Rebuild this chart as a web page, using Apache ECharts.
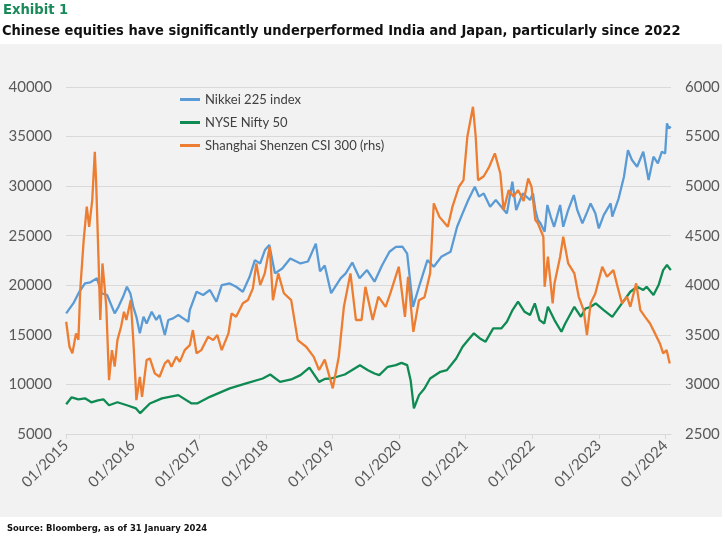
<!DOCTYPE html>
<html>
<head>
<meta charset="UTF-8">
<title>Exhibit 1</title>
<script src="https://cdn.jsdelivr.net/npm/echarts@6/dist/echarts.min.js"></script>
<style>
  html, body { margin: 0; padding: 0; background: #fff; }
  #main { width: 725px; height: 540px; }
</style>
</head>
<body>
<div id="main"></div>
<script type="text/javascript">
// tick labels on the date axis
var tickLabels = ['01/2015', '01/2016', '01/2017', '01/2018', '01/2019',
                  '01/2020', '01/2021', '01/2022', '01/2023', '01/2024'];

// Nikkei 225 index (left axis)
var nikkei = [
  ['2015-01-02', 17170], ['2015-02-10', 18170], ['2015-03-15', 19350], ['2015-04-15', 20190],
  ['2015-05-15', 20300], ['2015-06-20', 20700], ['2015-07-15', 19200], ['2015-08-15', 19000],
  ['2015-09-25', 17170], ['2015-10-15', 17800], ['2015-11-10', 18840], ['2015-12-01', 19850],
  ['2015-12-20', 19180], ['2016-01-05', 17830], ['2016-01-22', 16820], ['2016-02-10', 15150],
  ['2016-03-01', 16820], ['2016-03-18', 16150], ['2016-04-15', 17330], ['2016-05-10', 16500],
  ['2016-05-28', 17000], ['2016-06-26', 14980], ['2016-07-15', 16500], ['2016-08-10', 16660],
  ['2016-09-08', 17000], ['2016-10-05', 16660], ['2016-11-02', 16320], ['2016-11-10', 17500],
  ['2016-12-17', 19350], ['2017-01-22', 19020], ['2017-02-28', 19520], ['2017-04-05', 18340],
  ['2017-05-04', 20020], ['2017-06-17', 20190], ['2017-07-22', 19850], ['2017-08-28', 19350],
  ['2017-10-04', 20860], ['2017-11-02', 22540], ['2017-12-01', 22200], ['2017-12-27', 23550],
  ['2018-01-20', 24070], ['2018-02-20', 21200], ['2018-04-01', 21700], ['2018-05-15', 22700],
  ['2018-07-10', 22200], ['2018-08-20', 22400], ['2018-10-02', 24200], ['2018-10-25', 21400],
  ['2018-11-20', 22000], ['2018-12-25', 19200], ['2019-02-15', 20700], ['2019-03-15', 21200],
  ['2019-04-20', 22300], ['2019-05-30', 20700], ['2019-07-10', 21540], ['2019-08-20', 20360],
  ['2019-09-30', 22000], ['2019-11-10', 23380], ['2019-12-15', 23880], ['2020-01-20', 23900],
  ['2020-02-15', 23200], ['2020-03-18', 17830], ['2020-04-20', 19850], ['2020-06-05', 22540],
  ['2020-07-10', 21870], ['2020-08-20', 22870], ['2020-10-10', 23380], ['2020-11-15', 25900],
  ['2020-12-15', 27250], ['2021-01-15', 28600], ['2021-02-20', 29940], ['2021-03-15', 28940],
  ['2021-04-10', 29270], ['2021-05-15', 27930], ['2021-06-15', 28600], ['2021-08-15', 27250],
  ['2021-09-14', 30450], ['2021-10-05', 27590], ['2021-11-10', 29270], ['2021-12-20', 28600],
  ['2022-01-05', 29270], ['2022-01-18', 27590], ['2022-02-01', 26580], ['2022-02-15', 26250],
  ['2022-03-10', 25400], ['2022-03-25', 28100], ['2022-04-12', 26920], ['2022-05-01', 25900],
  ['2022-06-03', 28100], ['2022-06-20', 25900], ['2022-07-17', 27590], ['2022-08-17', 29100],
  ['2022-09-05', 27590], ['2022-10-03', 26250], ['2022-10-30', 27430], ['2022-11-17', 28260],
  ['2022-12-13', 27260], ['2023-01-01', 25740], ['2023-01-28', 27080], ['2023-03-07', 28260],
  ['2023-03-16', 26920], ['2023-04-20', 28770], ['2023-05-19', 30950], ['2023-06-10', 33640],
  ['2023-07-02', 32630], ['2023-07-30', 31960], ['2023-09-02', 33470], ['2023-10-01', 30620],
  ['2023-10-28', 32970], ['2023-11-21', 32300], ['2023-12-13', 33470], ['2023-12-31', 33300],
  ['2024-01-10', 36330], ['2024-01-20', 35830], ['2024-01-31', 36000]
];

// NYSE Nifty 50 (left axis)
var nifty = [
  ['2015-01-02', 8000], ['2015-02-01', 8700], ['2015-03-10', 8500], ['2015-04-15', 8600],
  ['2015-05-20', 8200], ['2015-06-25', 8400], ['2015-07-25', 8500], ['2015-08-25', 7900],
  ['2015-10-10', 8200], ['2015-12-01', 7900], ['2016-01-20', 7580], ['2016-02-12', 7100],
  ['2016-04-05', 8080], ['2016-06-10', 8590], ['2016-09-08', 8920], ['2016-11-20', 8080],
  ['2016-12-20', 8080], ['2017-02-28', 8750], ['2017-06-17', 9600], ['2017-09-15', 10100],
  ['2017-12-15', 10600], ['2018-01-25', 11000], ['2018-03-20', 10260], ['2018-05-20', 10500],
  ['2018-07-10', 10940], ['2018-08-28', 11700], ['2018-10-20', 10260], ['2018-11-20', 10550],
  ['2018-12-25', 10600], ['2019-03-10', 11000], ['2019-04-15', 11400], ['2019-06-01', 11940],
  ['2019-07-15', 11440], ['2019-08-20', 11100], ['2019-09-15', 10940], ['2019-11-01', 11780],
  ['2019-12-15', 11950], ['2020-01-15', 12180], ['2020-02-15', 11950], ['2020-03-05', 10430],
  ['2020-03-23', 7580], ['2020-04-20', 8920], ['2020-05-20', 9590], ['2020-06-20', 10600],
  ['2020-08-15', 11270], ['2020-09-20', 11440], ['2020-11-10', 12620], ['2020-12-15', 13800],
  ['2021-01-20', 14600], ['2021-02-15', 15150], ['2021-03-20', 14640], ['2021-04-20', 14310],
  ['2021-06-01', 15650], ['2021-07-15', 15650], ['2021-08-15', 16320], ['2021-09-15', 17500],
  ['2021-10-15', 18340], ['2021-11-20', 17330], ['2021-12-20', 17000], ['2022-01-15', 18170],
  ['2022-02-10', 16490], ['2022-03-08', 16150], ['2022-03-28', 17830], ['2022-05-03', 16490],
  ['2022-06-10', 15310], ['2022-07-01', 16150], ['2022-08-20', 17830], ['2022-09-25', 16820],
  ['2022-10-20', 17660], ['2022-11-17', 17830], ['2022-12-15', 18170], ['2023-01-28', 17500],
  ['2023-03-16', 16820], ['2023-05-01', 18000], ['2023-06-23', 19350], ['2023-07-30', 19850],
  ['2023-09-02', 19520], ['2023-09-20', 19850], ['2023-10-28', 19020], ['2023-11-25', 20020],
  ['2023-12-20', 21530], ['2024-01-10', 22040], ['2024-01-31', 21530]
];

// Shanghai Shenzen CSI 300 (right axis)
var csi = [
  ['2015-01-02', 3632], ['2015-01-20', 3380], ['2015-02-05', 3313], ['2015-02-25', 3515],
  ['2015-03-10', 3450], ['2015-03-20', 3952], ['2015-04-08', 4456], ['2015-04-25', 4793],
  ['2015-05-08', 4590], ['2015-05-25', 4860], ['2015-06-08', 5347], ['2015-06-15', 5060],
  ['2015-06-28', 4288], ['2015-07-08', 3650], ['2015-07-20', 4220], ['2015-07-30', 4020],
  ['2015-08-10', 3783], ['2015-08-25', 3043], ['2015-09-10', 3346], ['2015-09-25', 3180],
  ['2015-10-10', 3447], ['2015-10-30', 3582], ['2015-11-15', 3733], ['2015-11-28', 3650],
  ['2015-12-22', 3851], ['2016-01-05', 3447], ['2016-01-15', 3111], ['2016-01-22', 2842],
  ['2016-02-10', 3077], ['2016-02-22', 2875], ['2016-03-18', 3245], ['2016-04-05', 3262],
  ['2016-05-02', 3111], ['2016-05-28', 3077], ['2016-06-26', 3212], ['2016-07-15', 3245],
  ['2016-08-01', 3178], ['2016-08-28', 3279], ['2016-09-16', 3228], ['2016-10-13', 3346],
  ['2016-11-10', 3396], ['2016-11-27', 3548], ['2016-12-17', 3313], ['2017-01-12', 3346],
  ['2017-02-18', 3481], ['2017-03-18', 3447], ['2017-04-10', 3498], ['2017-05-04', 3346],
  ['2017-06-10', 3515], ['2017-06-27', 3717], ['2017-07-22', 3683], ['2017-08-28', 3818],
  ['2017-09-25', 3851], ['2017-10-22', 3969], ['2017-11-10', 4221], ['2017-12-01', 4002],
  ['2017-12-26', 4120], ['2018-01-22', 4389], ['2018-02-09', 3850], ['2018-03-10', 4120],
  ['2018-04-10', 3920], ['2018-05-20', 3850], ['2018-06-25', 3447], ['2018-08-10', 3380],
  ['2018-09-20', 3280], ['2018-10-20', 3145], ['2018-11-20', 3250], ['2019-01-03', 2960],
  ['2019-02-05', 3280], ['2019-03-05', 3783], ['2019-04-10', 4120], ['2019-05-10', 3650],
  ['2019-06-10', 3650], ['2019-07-01', 3985], ['2019-08-10', 3650], ['2019-09-10', 3885],
  ['2019-10-20', 3783], ['2019-11-15', 3920], ['2019-12-31', 4187], ['2020-02-03', 3682],
  ['2020-02-20', 4086], ['2020-03-20', 3530], ['2020-04-20', 3850], ['2020-05-20', 3880],
  ['2020-06-20', 4120], ['2020-07-10', 4826], ['2020-08-10', 4690], ['2020-09-25', 4590],
  ['2020-10-20', 4790], ['2020-11-25', 4994], ['2020-12-20', 5060], ['2021-01-10', 5498],
  ['2021-02-10', 5801], ['2021-02-25', 5498], ['2021-03-10', 5060], ['2021-04-10', 5100],
  ['2021-05-10', 5195], ['2021-06-10', 5330], ['2021-07-10', 5128], ['2021-07-28', 4759],
  ['2021-08-25', 4960], ['2021-09-20', 4894], ['2021-10-15', 4960], ['2021-11-15', 4850],
  ['2021-12-10', 5078], ['2021-12-28', 4994], ['2022-01-18', 4658], ['2022-02-01', 4625],
  ['2022-03-03', 4490], ['2022-03-10', 3985], ['2022-03-28', 4288], ['2022-04-23', 3818],
  ['2022-05-03', 4019], ['2022-06-03', 4288], ['2022-06-20', 4490], ['2022-07-17', 4221],
  ['2022-08-20', 4120], ['2022-09-13', 3884], ['2022-10-10', 3750], ['2022-10-28', 3498],
  ['2022-11-17', 3818], ['2022-12-13', 3918], ['2023-01-20', 4187], ['2023-02-15', 4086],
  ['2023-03-22', 4153], ['2023-04-14', 3985], ['2023-05-08', 3818], ['2023-06-05', 3884],
  ['2023-06-23', 3783], ['2023-07-25', 4019], ['2023-08-17', 3750], ['2023-09-12', 3682],
  ['2023-10-09', 3615], ['2023-11-05', 3515], ['2023-12-02', 3414], ['2023-12-20', 3313],
  ['2024-01-08', 3346], ['2024-01-25', 3212]
];

var seriesNames = ['Nikkei 225 index', 'NYSE Nifty 50', 'Shanghai Shenzen CSI 300 (rhs)'];
var seriesColors = ['#5b9bd5', '#0e8a52', '#ed7d31'];

function toTs(s) {
    var p = s.split('-');
    return Date.UTC(+p[0], +p[1] - 1, +p[2]);
}
function conv(list) {
    return list.map(function (d) { return [toTs(d[0]), d[1]]; });
}
var tickValues = tickLabels.map(function (l) { return Date.UTC(+l.slice(3), 0, 1); });

var axisFont = 'Lato, "Liberation Sans", sans-serif';
var narrowFont = '"Liberation Sans Narrow", "DejaVu Sans Condensed", sans-serif';

var myChart = echarts.init(document.getElementById('main'));

var option = {
    animation: false,
    backgroundColor: '#ffffff',
    graphic: [{
        type: 'rect', z: -10, silent: true,
        shape: { x: 0, y: 44, width: 722, height: 473 },
        style: { fill: '#f2f2f2' }
    }],
    title: [
        { text: 'Exhibit 1', left: 3, top: 3, padding: 0,
          textStyle: { fontFamily: narrowFont, fontWeight: 'bold', fontSize: 14.6, color: '#1b8a5a' } },
        { text: 'Chinese equities have significantly underperformed India and Japan, particularly since 2022', left: 2, top: 24, padding: 0,
          textStyle: { fontFamily: narrowFont, fontWeight: 'bold', fontSize: 14.5, color: '#111111' } },
        { text: 'Source: Bloomberg, as of 31 January 2024', left: 7, top: 524, padding: 0,
          textStyle: { fontFamily: narrowFont, fontWeight: 'bold', fontSize: 9.4, color: '#111111' } }
    ],
    legend: {
        orient: 'vertical', left: 175, top: 88,
        itemWidth: 20, itemHeight: 3, itemGap: 10, icon: 'rect',
        textStyle: { fontFamily: axisFont, fontSize: 13, color: '#404040' },
        data: seriesNames
    },
    grid: { left: 66, right: 54, top: 87, bottom: 106 },
    xAxis: {
        type: 'value',
        min: toTs('2015-01-01'), max: toTs('2024-02-01'),
        axisLine: { show: true, lineStyle: { color: '#d9d9d9' } },
        axisTick: { show: true, customValues: tickValues, length: 5, lineStyle: { color: '#d9d9d9' } },
        axisLabel: {
            customValues: tickValues, rotate: 45, margin: 9,
            fontFamily: axisFont, fontSize: 15, color: '#595959',
            formatter: function (v) {
                var i = tickValues.indexOf(v);
                return i >= 0 ? tickLabels[i] : '01/' + new Date(v).getUTCFullYear();
            }
        },
        splitLine: { show: false }
    },
    yAxis: [
        { type: 'value', min: 5000, max: 40000, interval: 5000,
          axisLine: { show: false }, axisTick: { show: false },
          axisLabel: { margin: 14, fontFamily: axisFont, fontSize: 15, color: '#595959',
                       formatter: function (v) { return String(v); } },
          splitLine: { lineStyle: { color: '#d9d9d9' } } },
        { type: 'value', min: 2500, max: 6000, interval: 500, position: 'right',
          axisLine: { show: false }, axisTick: { show: false },
          axisLabel: { margin: 14, fontFamily: axisFont, fontSize: 15, color: '#595959',
                       formatter: function (v) { return String(v); } },
          splitLine: { show: false } }
    ],
    series: [
        { name: seriesNames[0], type: 'line', yAxisIndex: 0, data: conv(nikkei),
          showSymbol: false, color: seriesColors[0], lineStyle: { width: 2.3 } },
        { name: seriesNames[1], type: 'line', yAxisIndex: 0, data: conv(nifty),
          showSymbol: false, color: seriesColors[1], lineStyle: { width: 2.3 } },
        { name: seriesNames[2], type: 'line', yAxisIndex: 1, data: conv(csi),
          showSymbol: false, color: seriesColors[2], lineStyle: { width: 2.3 } }
    ]
};
myChart.setOption(option);
</script>
</body>
</html>
